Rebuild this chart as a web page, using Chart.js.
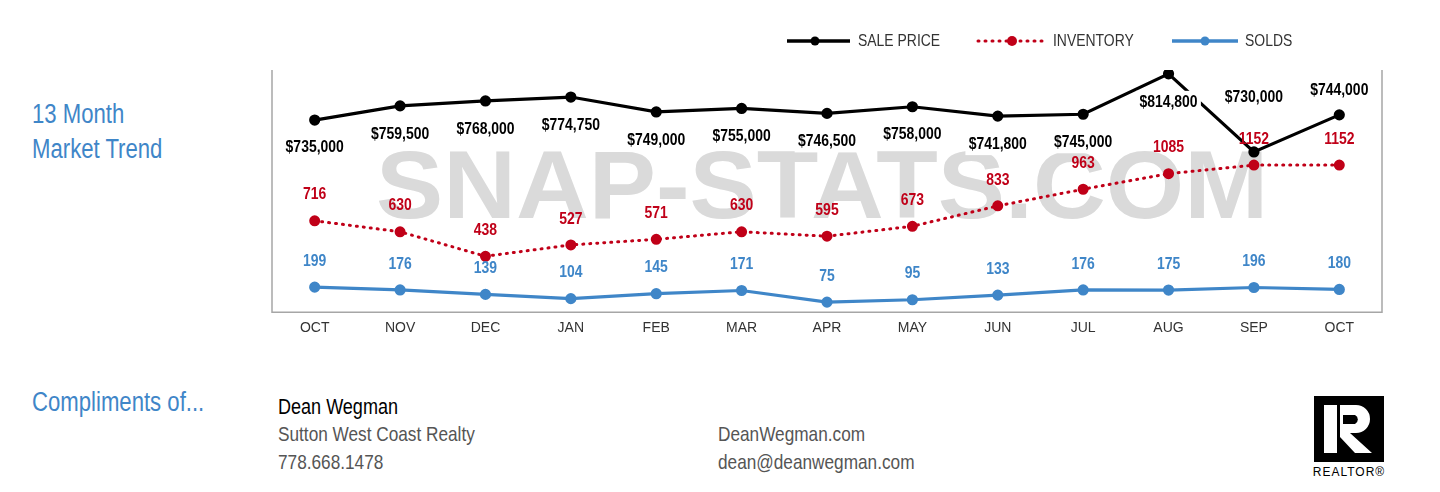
<!DOCTYPE html>
<html><head><meta charset="utf-8">
<script src="https://cdn.jsdelivr.net/npm/chart.js@4"></script>
<style>
body{margin:0;background:#fff;font-family:"Liberation Sans",Arial,sans-serif;}
.abs{position:absolute;white-space:nowrap}
.n{transform:scaleX(0.82);transform-origin:0 0}
#wm{left:376px;top:130px;font:bold 96px "Liberation Sans",Arial,sans-serif;color:#dadada;transform:scaleX(1.05);transform-origin:0 0}
.blue{color:#3f86c8;font-size:27px}
.leg{font-size:17px;color:#333}
.info{font-size:21px;color:#555}
</style></head><body>
<div class="abs" id="wm">SNAP-STATS.COM</div>
<div class="abs blue n" style="left:32px;top:97px;line-height:35px">13 Month<br>Market Trend</div>
<div class="abs" style="left:0;top:0;width:1440px;height:349px"><canvas id="c"></canvas></div>
<svg class="abs" style="left:780px;top:30px" width="540" height="22">
  <line x1="7" y1="11" x2="70" y2="11" stroke="#000" stroke-width="3.5"/><circle cx="35" cy="11" r="4.5"/>
  <line x1="198" y1="11" x2="265" y2="11" stroke="#c00018" stroke-width="3" stroke-dasharray="1 6" stroke-linecap="round"/><circle cx="232" cy="11" r="5" fill="#c00018"/>
  <line x1="392" y1="11" x2="458" y2="11" stroke="#3f86c8" stroke-width="3.5"/><circle cx="425" cy="11" r="4.5" fill="#3f86c8"/>
</svg>
<div class="abs leg n" style="left:858px;top:31px">SALE PRICE</div>
<div class="abs leg n" style="left:1053px;top:31px">INVENTORY</div>
<div class="abs leg n" style="left:1245px;top:31px">SOLDS</div>
<div class="abs blue n" style="left:32px;top:387px">Compliments of...</div>
<div class="abs n" style="left:278px;top:394px;font-size:22px;color:#000">Dean Wegman</div>
<div class="abs info n" style="left:278px;top:422px">Sutton West Coast Realty</div>
<div class="abs info n" style="left:278px;top:450px">778.668.1478</div>
<div class="abs info n" style="left:718px;top:422px">DeanWegman.com</div>
<div class="abs info n" style="left:718px;top:450px">dean@deanwegman.com</div>
<svg class="abs" style="left:1310px;top:392px" width="80" height="90">
  <rect x="4" y="4" width="70" height="66" fill="#000"/>
  <rect x="14" y="13" width="13" height="48" fill="#fff"/>
  <path d="M30 13 H46 A14 14 0 0 1 46 41 H40 L62 61 H45 L30 45 Z" fill="#fff"/>
  <path d="M33 23 H45 A5 5 0 0 1 45 32 H33 Z" fill="#000"/>
  <text x="39" y="84" text-anchor="middle" font-family="Liberation Sans" font-size="12" letter-spacing="1">REALTOR®</text>
</svg>
<script>
const months = ["OCT","NOV","DEC","JAN","FEB","MAR","APR","MAY","JUN","JUL","AUG","SEP","OCT"];
const salePrice = [735000,759500,768000,774750,749000,755000,746500,758000,741800,745000,814800,680000,744000];
const salePriceLabels = ["$735,000","$759,500","$768,000","$774,750","$749,000","$755,000","$746,500","$758,000","$741,800","$745,000","$814,800","$730,000","$744,000"];
const inventory = [716,630,438,527,571,630,595,673,833,963,1085,1152,1152];
const solds = [199,176,139,104,145,171,75,95,133,176,175,196,180];

const RED = "#c00018", BLUE = "#3f86c8";
const priceOffsets = [27,28,28,28,28,28,28,28,28,28,28,-55,-25];

// draw condensed text by squeezing the canvas horizontally
function narrowText(ctx, t, x, y, bg) {
  ctx.save();
  ctx.translate(x, y); ctx.scale(0.82, 1);
  if (bg) {
    const w = ctx.measureText(t).width + 8, c = ctx.fillStyle;
    ctx.fillStyle = "#fff"; ctx.fillRect(-w / 2, -11, w, 22); ctx.fillStyle = c;
  }
  ctx.fillText(t, 0, 0);
  ctx.restore();
}

const labelPlugin = {
  id: "labels",
  beforeDatasetsDraw(chart) {
    const {ctx, chartArea: a} = chart;
    ctx.save();
    ctx.strokeStyle = "#a6a6a6"; ctx.lineWidth = 1.5;
    ctx.beginPath();
    ctx.moveTo(a.left, a.top); ctx.lineTo(a.left, a.bottom); ctx.lineTo(a.right, a.bottom); ctx.lineTo(a.right, a.top);
    ctx.stroke();
    ctx.restore();
  },
  afterDatasetsDraw(chart) {
    const ctx = chart.ctx;
    ctx.save();
    ctx.font = "bold 17px 'Liberation Sans', Arial, sans-serif";
    ctx.textAlign = "center"; ctx.textBaseline = "middle";
    chart.getDatasetMeta(0).data.forEach((p, i) => {
      ctx.fillStyle = "#000";
      narrowText(ctx, salePriceLabels[i], p.x, p.y + priceOffsets[i], true);
    });
    [[1, inventory, RED], [2, solds, BLUE]].forEach(([idx, vals, col]) => {
      ctx.fillStyle = col;
      chart.getDatasetMeta(idx).data.forEach((p, i) => narrowText(ctx, String(vals[i]), p.x, p.y - 26));
    });
    ctx.restore();
  }
};

new Chart(document.getElementById("c"), {
  type: "line",
  data: {
    labels: months,
    datasets: [
      {label: "SALE PRICE", data: salePrice, yAxisID: "yP", borderColor: "#000", backgroundColor: "#000", borderWidth: 3.2, pointRadius: 4},
      {label: "INVENTORY", data: inventory, yAxisID: "yI", borderColor: RED, backgroundColor: RED, borderWidth: 3, borderDash: [1, 6], borderCapStyle: "round", pointRadius: 4},
      {label: "SOLDS", data: solds, yAxisID: "yS", borderColor: BLUE, backgroundColor: BLUE, borderWidth: 3.2, pointRadius: 4}
    ]
  },
  options: {
    responsive: true, maintainAspectRatio: false, animation: false,
    layout: {padding: {left: 272, right: 58, top: 70, bottom: 12}},
    plugins: {legend: {display: false}, tooltip: {enabled: false}},
    elements: {line: {tension: 0}},
    scales: {
      x: {offset: true, grid: {display: false}, border: {display: false},
          ticks: {padding: 0, color: "#333", font: {size: 14, family: "'Liberation Sans', Arial, sans-serif"}}},
      yP: {display: false, min: 403400, max: 821400},
      yI: {display: false, min: 0, max: 1897},
      yS: {display: false, min: -8, max: 1992}
    }
  },
  plugins: [labelPlugin]
});
</script>
</body></html>
